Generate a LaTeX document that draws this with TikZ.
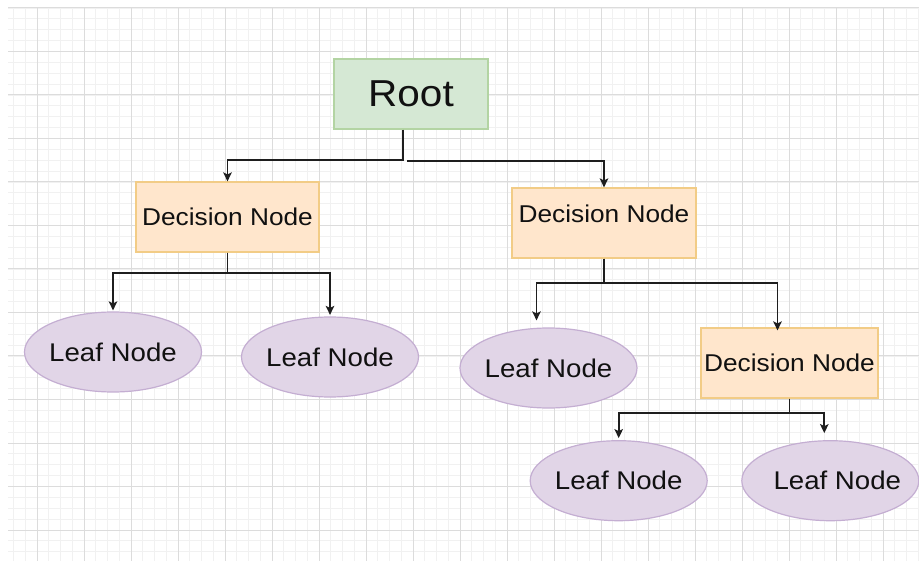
\documentclass[tikz,border=0pt]{standalone}
\usepackage{fontspec}
\setmainfont{Liberation Sans}[FakeStretch=1.08]
\usetikzlibrary{arrows.meta,shapes.geometric}

\definecolor{gridmajor}{HTML}{DCDCDC}
\definecolor{gridminor}{HTML}{F1F1F1}
\definecolor{rootfill}{HTML}{D5E8D4}
\definecolor{rootline}{HTML}{B3D4A3}
\definecolor{decfill}{HTML}{FFE6CC}
\definecolor{decline}{HTML}{F2CC86}
\definecolor{leaffill}{HTML}{E1D5E7}
\definecolor{leafline}{HTML}{C4AED2}
\definecolor{linkcol}{HTML}{1E1E1E}
\definecolor{inkcol}{HTML}{111111}

\tikzset{
  minorline/.style={gridminor, line width=0.9pt},
  majorline/.style={gridmajor, line width=1pt},
  rootbox/.style={rectangle, draw=rootline, fill=rootfill, line width=1.2pt,
    minimum width=154pt, minimum height=70pt, inner sep=0pt, text=inkcol,
    font=\fontsize{37.5}{44}\selectfont},
  decbox/.style={rectangle, draw=decline, fill=decfill, line width=1.2pt,
    minimum height=70pt, inner sep=0pt, text=inkcol,
    font=\fontsize{24.3}{29}\selectfont},
  leafbox/.style={ellipse, draw=leafline, fill=leaffill, line width=1.2pt,
    minimum width=177pt, minimum height=80pt, inner ysep=0pt, inner xsep=-3pt,
    text=inkcol, font=\fontsize{25.6}{30}\selectfont},
  link/.style={draw=linkcol, line width=1.8pt,
    -{Stealth[length=9pt, width=8.5pt, inset=2pt]}},
}

\begin{document}
\begin{tikzpicture}[x=1pt, y=-1pt]
  \useasboundingbox (0,0) rectangle (919,561);
  \fill[white] (0,0) rectangle (919,561);

  % background grid
  \begin{scope}
    \clip (8,8) rectangle (919,561);
    \foreach \i in {0,...,80}
      \draw[minorline] ({-10+11.75*\i},8) -- ++(0,553);
    \foreach \i in {0,...,51}
      \draw[minorline] (8,{8+10.875*\i}) -- ++(911,0);
    \foreach \i in {0,...,18}
      \draw[majorline] ({37+47*\i},8) -- ++(0,553);
    \foreach \i in {0,...,12}
      \draw[majorline] (8,{8+43.5*\i}) -- ++(911,0);
  \end{scope}

  % nodes
  \node[rootbox] (root) at (411,94) {Root};
  \node[decbox, minimum width=183pt] (d1) at (227.5,217) {Decision Node};
  \node[decbox, minimum width=184pt, text depth=19pt] (d2) at (604,223) {Decision Node};
  \node[decbox, minimum width=177pt] (d3) at (789.5,363) {Decision Node};

  \node[leafbox] (l1) at (113,352) {Leaf Node};
  \node[leafbox] (l2) at (330,357) {Leaf Node};
  \node[leafbox] (l3) at (548.5,368) {Leaf Node};
  \node[leafbox] (l4) at (618.7,480.7) {Leaf Node};
  \node[leafbox, inner xsep=-10pt] (l5) at (830.3,480.7) {\hspace*{14pt}Leaf Node};

  % connectors
  \coordinate (rootfork) at (407,160.7);
  \draw[link] ([xshift=-8pt]root.south) |- ([yshift=21.5pt]d1.north) -- (d1.north);
  \draw[link] (rootfork) -| (d2.north);

  \draw[link] (d1.south) |- ([yshift=38pt]l1.north) -- ([yshift=1pt]l1.north);
  \draw[link] (d1.south) |- ([yshift=43pt]l2.north) -- ([yshift=1.5pt]l2.north);

  \draw[link] (d2.south) |- ([xshift=-12pt,yshift=44pt]l3.north) -- ([xshift=-12pt,yshift=7pt]l3.north);
  \draw[link] (d2.south) |- ([xshift=-12pt,yshift=44pt]d3.north) -- ([xshift=-12pt,yshift=-3pt]d3.north);

  \draw[link] (d3.south) |- ([yshift=27pt]l4.north) -- ([yshift=2pt]l4.north);
  \draw[link] (d3.south) |- ([xshift=-6pt,yshift=27pt]l5.north) -- ([xshift=-6pt,yshift=7pt]l5.north);
\end{tikzpicture}
\end{document}
